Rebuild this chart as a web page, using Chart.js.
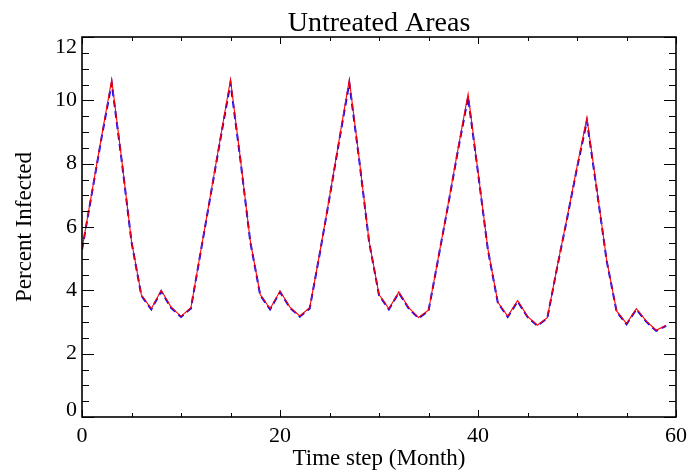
<!DOCTYPE html>
<html>
<head>
<meta charset="utf-8">
<script src="https://cdn.jsdelivr.net/npm/chart.js@4/dist/chart.umd.min.js"></script>
<style>
  html, body { margin: 0; padding: 0; background: #fff; }
  #wrap { width: 693px; height: 476px; }
</style>
</head>
<body>
<div id="wrap"><canvas id="infected-chart" width="693" height="476"></canvas></div>
<script>
// time steps (months)
const months = [0, 1, 2, 3, 4, 5, 6, 7, 8, 9, 10, 11, 12, 13, 14, 15, 16, 17, 18, 19,
  20, 21, 22, 23, 24, 25, 26, 27, 28, 29, 30, 31, 32, 33, 34, 35, 36, 37, 38, 39,
  40, 41, 42, 43, 44, 45, 46, 47, 48, 49, 50, 51, 52, 53, 54, 55, 56, 57, 58, 59];

// red solid line
const redValues = [5.30, 7.10, 8.90, 10.65, 8.15, 5.55, 3.85, 3.42, 4.00, 3.47, 3.18, 3.45,
  5.25, 7.05, 8.85, 10.65, 8.15, 5.55, 3.87, 3.42, 3.98, 3.47, 3.19, 3.45,
  5.15, 6.95, 8.80, 10.65, 8.15, 5.55, 3.87, 3.42, 3.95, 3.45, 3.14, 3.37,
  5.05, 6.75, 8.50, 10.20, 7.75, 5.30, 3.63, 3.18, 3.68, 3.18, 2.90, 3.14,
  4.75, 6.30, 7.90, 9.45, 7.20, 4.95, 3.35, 2.95, 3.42, 3.03, 2.74, 2.90];

// blue dashed line
const blueValues = [5.28, 7.07, 8.86, 10.55, 8.12, 5.53, 3.83, 3.40, 3.97, 3.45, 3.16, 3.43,
  5.23, 7.02, 8.81, 10.55, 8.12, 5.53, 3.85, 3.40, 3.95, 3.45, 3.17, 3.43,
  5.13, 6.92, 8.76, 10.55, 8.12, 5.53, 3.85, 3.40, 3.92, 3.43, 3.12, 3.35,
  5.03, 6.72, 8.46, 10.10, 7.72, 5.28, 3.61, 3.16, 3.65, 3.16, 2.88, 3.12,
  4.73, 6.27, 7.86, 9.35, 7.17, 4.93, 3.33, 2.93, 3.40, 3.01, 2.72, 2.88];

const xTickLabels = ["0", "20", "40", "60"];
const yTickLabels = ["0", "2", "4", "6", "8", "10", "12"];

const serif = "'Liberation Serif', 'DejaVu Serif', serif";
const tickFont = "22px " + serif;

// box round the plot, inward ticks, the end labels of y (nudged inside), and the title
const boxAxes = {
  id: "boxAxes",
  afterDraw(chart) {
    const ctx = chart.ctx;
    const a = chart.chartArea;
    const xs = chart.scales.x;
    const ys = chart.scales.y;
    ctx.save();
    ctx.strokeStyle = "#000";
    ctx.lineWidth = 1;
    ctx.beginPath();
    for (let v = 0; v <= 60; v += 5) {
      const px = Math.round(xs.getPixelForValue(v)) + 0.5;
      const len = v % 20 === 0 ? 7 : 4;
      ctx.moveTo(px, a.bottom); ctx.lineTo(px, a.bottom - len);
      ctx.moveTo(px, a.top); ctx.lineTo(px, a.top + len);
    }
    for (let v = 0; v <= 12; v += 0.5) {
      const py = Math.round(ys.getPixelForValue(v)) + 0.5;
      const len = v % 2 === 0 ? 12 : 7;
      ctx.moveTo(a.left, py); ctx.lineTo(a.left + len, py);
      ctx.moveTo(a.right, py); ctx.lineTo(a.right - len, py);
    }
    ctx.stroke();
    ctx.lineWidth = 1.6;
    ctx.strokeRect(a.left, a.top, a.right - a.left, a.bottom - a.top);

    ctx.fillStyle = "#000";
    ctx.font = tickFont;
    ctx.textAlign = "right";
    ctx.textBaseline = "middle";
    const first = yTickLabels[0];
    const last = yTickLabels[yTickLabels.length - 1];
    ctx.fillText(first, a.left - 5, ys.getPixelForValue(Number(first)) - 7);
    ctx.fillText(last, a.left - 5, ys.getPixelForValue(Number(last)) + 10);

    ctx.font = "28px " + serif;
    ctx.textAlign = "center";
    ctx.textBaseline = "alphabetic";
    ctx.fillText("Untreated Areas", (a.left + a.right) / 2, 31);
    ctx.restore();
  },
};

const chartInfected = new Chart(document.getElementById("infected-chart").getContext("2d"), {
  type: "line",
  data: {
    labels: months,
    datasets: [
      {
        label: "red",
        data: months.map((m, i) => ({ x: m, y: redValues[i] })),
        borderColor: "#ff0000",
        borderWidth: 1.1,
        pointRadius: 0,
        tension: 0,
      },
      {
        label: "blue",
        data: months.map((m, i) => ({ x: m, y: blueValues[i] })),
        borderColor: "#0000ff",
        borderWidth: 2,
        borderDash: [7, 4],
        pointRadius: 0,
        tension: 0,
      },
    ],
  },
  options: {
    responsive: false,
    animation: false,
    layout: { padding: { left: 0, right: 14, top: 37, bottom: 0 } },
    plugins: {
      legend: { display: false },
      tooltip: { enabled: false },
      title: { display: false },
    },
    scales: {
      x: {
        type: "linear",
        min: 0,
        max: 60,
        afterFit: (s) => { s.height = 59; },
        afterBuildTicks: (s) => { s.ticks = xTickLabels.map((t) => ({ value: Number(t) })); },
        grid: { display: false, drawTicks: false },
        border: { display: false },
        ticks: {
          color: "#000",
          padding: 6,
          maxRotation: 0,
          font: { family: serif, size: 22 },
        },
        title: {
          display: true,
          text: "Time step (Month)",
          color: "#000",
          font: { family: serif, size: 23 },
          padding: { top: 0, bottom: 3 },
        },
      },
      y: {
        min: 0,
        max: 12,
        afterFit: (s) => { s.width = 82; },
        afterBuildTicks: (s) => { s.ticks = yTickLabels.map((t) => ({ value: Number(t) })); },
        grid: { display: false, drawTicks: false },
        border: { display: false },
        ticks: {
          color: "#000",
          padding: 5,
          font: { family: serif, size: 22 },
          // the end labels are drawn by boxAxes, shifted inside like the original
          callback: (v, i, arr) => (i === 0 || i === arr.length - 1 ? "" : String(v)),
        },
        title: {
          display: true,
          text: "Percent Infected",
          color: "#000",
          font: { family: serif, size: 23 },
          padding: { top: 11, bottom: 0 },
        },
      },
    },
  },
  plugins: [boxAxes],
});
</script>
</body>
</html>
